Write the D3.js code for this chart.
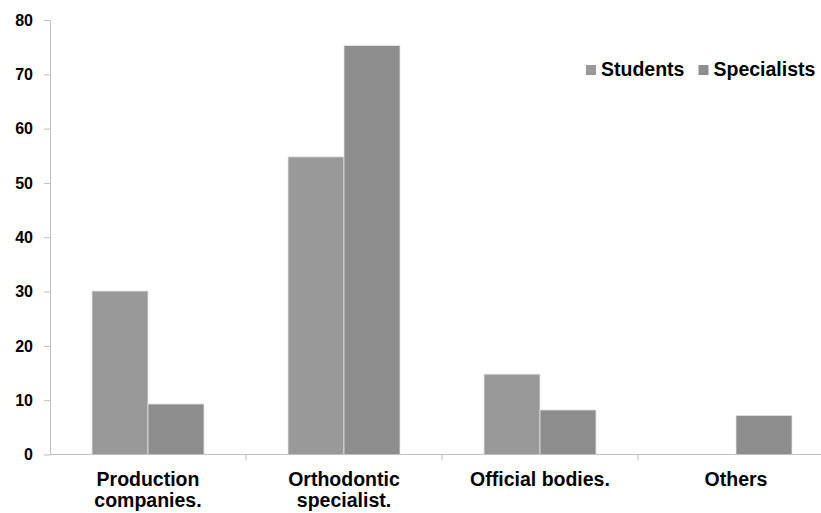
<!DOCTYPE html>
<html>
<head>
<meta charset="utf-8">
<script src="https://cdn.jsdelivr.net/npm/d3@7/dist/d3.min.js"></script>
<style>
  html, body { margin: 0; padding: 0; background: #ffffff; }
  svg { display: block; font-family: "Liberation Sans", Arial, sans-serif; }
</style>
</head>
<body>
<svg id="chart" width="821" height="513"></svg>
<script>
// Categories and series values
const categories = [["Production", "companies."], ["Orthodontic", "specialist."], ["Official bodies."], ["Others"]];
const categoryKeys = ["Production companies.", "Orthodontic specialist.", "Official bodies.", "Others"];
const seriesNames = ["Students", "Specialists"];
const students = [30.1, 54.8, 14.8, 0];
const specialists = [9.3, 75.3, 8.2, 7.2];
const yTicks = [0, 10, 20, 30, 40, 50, 60, 70, 80];
const seriesColors = ["#999999", "#8d8d8d"];

const svg = d3.select("#chart");
const plotLeft = 50, plotRight = 834, plotTop = 20, plotBottom = 454.5;

const x0 = d3.scaleBand().domain(categoryKeys).range([plotLeft, plotRight]).paddingInner(0).paddingOuter(0);
const x1 = d3.scaleBand().domain(seriesNames).range([0, x0.bandwidth()]).paddingInner(0).paddingOuter(0.75);
const y = d3.scaleLinear().domain([0, 80]).range([plotBottom, plotTop]);
const color = d3.scaleOrdinal().domain(seriesNames).range(seriesColors);

const rows = categoryKeys.map((c, i) => ({ cat: c, values: [
  { name: "Students", value: students[i] },
  { name: "Specialists", value: specialists[i] }
]}));

// Bars
const groups = svg.append("g").selectAll("g").data(rows).join("g")
  .attr("transform", d => `translate(${x0(d.cat)},0)`);
groups.selectAll("rect").data(d => d.values.filter(v => v.value > 0)).join("rect")
  .attr("x", d => x1(d.name))
  .attr("y", d => y(d.value))
  .attr("width", x1.bandwidth())
  .attr("height", d => y(0) - y(d.value))
  .attr("fill", d => color(d.name))
  .attr("stroke", "#e6e6e6")
  .attr("stroke-width", 0.8);

// Y axis
const yAxis = svg.append("g").attr("transform", `translate(${plotLeft},0)`)
  .call(d3.axisLeft(y).tickValues(yTicks).tickSize(6).tickPadding(11).tickSizeOuter(0));
yAxis.select(".domain").attr("stroke", "#bfbfbf");
yAxis.selectAll(".tick line").attr("stroke", "#bfbfbf");
yAxis.selectAll(".tick text")
  .attr("font-size", 16).attr("font-weight", "bold").attr("fill", "#000")
  .attr("font-family", "Liberation Sans, Arial, sans-serif");

// X axis line and boundary ticks
svg.append("line").attr("x1", plotLeft).attr("x2", plotRight).attr("y1", plotBottom).attr("y2", plotBottom)
  .attr("stroke", "#bfbfbf").attr("stroke-width", 1);
svg.append("g").selectAll("line").data(categoryKeys.slice(1)).join("line")
  .attr("x1", d => x0(d)).attr("x2", d => x0(d))
  .attr("y1", plotBottom).attr("y2", plotBottom + 6)
  .attr("stroke", "#bfbfbf");

// Category labels
const labels = svg.append("g").selectAll("text").data(categories).join("text")
  .attr("x", (d, i) => x0(categoryKeys[i]) + x0.bandwidth() / 2)
  .attr("y", 486)
  .attr("text-anchor", "middle")
  .attr("font-size", 19.5).attr("font-weight", "bold").attr("fill", "#000");
labels.selectAll("tspan").data(d => d).join("tspan")
  .attr("x", function () { return d3.select(this.parentNode).attr("x"); })
  .attr("dy", (d, i) => i === 0 ? 0 : 21)
  .text(d => d);

// Legend
const legendItems = [{ name: "Students", x: 586 }, { name: "Specialists", x: 698.5 }];
const legend = svg.append("g").selectAll("g").data(legendItems).join("g")
  .attr("transform", d => `translate(${d.x},65)`);
legend.append("rect").attr("width", 10).attr("height", 10).attr("fill", d => color(d.name));
legend.append("text").attr("x", 15).attr("y", 11)
  .attr("font-size", 19.5).attr("font-weight", "bold").attr("fill", "#000")
  .text(d => d.name);
</script>
</body>
</html>
